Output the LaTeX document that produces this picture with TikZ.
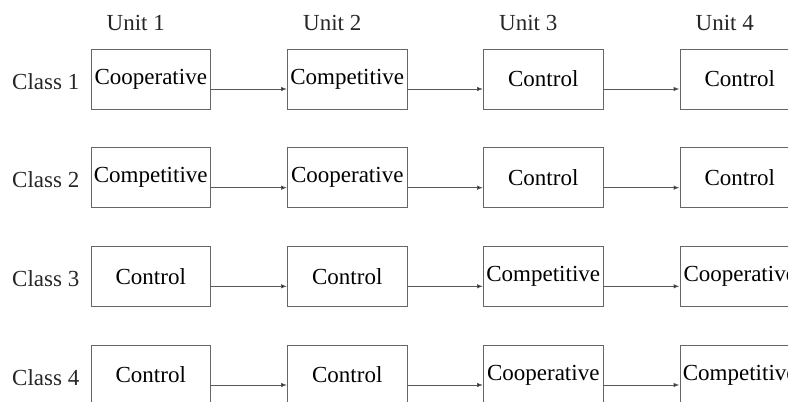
\documentclass[tikz,border=0pt]{standalone}
\usepackage{fontspec}
\setmainfont{Liberation Serif}
\usetikzlibrary{arrows.meta}
\begin{document}
\begin{tikzpicture}[x=1pt,y=-1pt,
  box/.style={draw=black!60,line width=0.9pt,minimum width=119.5pt,minimum height=60pt,inner sep=0pt,font=\fontsize{23}{27}\selectfont},
  lbl/.style={inner sep=0pt,font=\fontsize{23}{27}\selectfont,text=black!85},
  conn/.style={draw=black!65,line width=0.9pt,-{Latex[length=6pt,width=4.5pt,fill=black]}}]
\useasboundingbox (0,0) rectangle (788,402);
\clip (0,0) rectangle (788,402);
% unit labels
\node[lbl,anchor=base] (u1) at (135.75,30.5) {Unit 1};
\node[lbl,anchor=base] (u2) at (332.25,30.5) {Unit 2};
\node[lbl,anchor=base] (u3) at (528.25,30.5) {Unit 3};
\node[lbl,anchor=base] (u4) at (724.75,30.5) {Unit 4};
% class labels
\node[lbl,anchor=base east] (c1) at (79.5,89) {Class 1};
\node[lbl,anchor=base east] (c2) at (79.5,187.7) {Class 2};
\node[lbl,anchor=base east] (c3) at (79.5,286.3) {Class 3};
\node[lbl,anchor=base east] (c4) at (79.5,385) {Class 4};
% row 1
\node[box] (b11) at (150.75,79) {Cooperative};
\node[box] (b12) at (347.25,79) {Competitive};
\node[box] (b13) at (543.25,79) {Control};
\node[box] (b14) at (739.75,79) {Control};
% row 2
\node[box] (b21) at (150.75,177.7) {Competitive};
\node[box] (b22) at (347.25,177.7) {Cooperative};
\node[box] (b23) at (543.25,177.7) {Control};
\node[box] (b24) at (739.75,177.7) {Control};
% row 3
\node[box] (b31) at (150.75,276.3) {Control};
\node[box] (b32) at (347.25,276.3) {Control};
\node[box] (b33) at (543.25,276.3) {Competitive};
\node[box] (b34) at (739.75,276.3) {Cooperative};
% row 4
\node[box] (b41) at (150.75,375) {Control};
\node[box] (b42) at (347.25,375) {Control};
\node[box] (b43) at (543.25,375) {Cooperative};
\node[box] (b44) at (739.75,375) {Competitive};
% connectors
\foreach \r in {1,2,3,4}{
  \foreach \a/\b in {1/2,2/3,3/4}{
    \draw[conn] ([yshift=-10pt]b\r\a.east) -- ([yshift=-10pt]b\r\b.west);
  }
}
\end{tikzpicture}
\end{document}
